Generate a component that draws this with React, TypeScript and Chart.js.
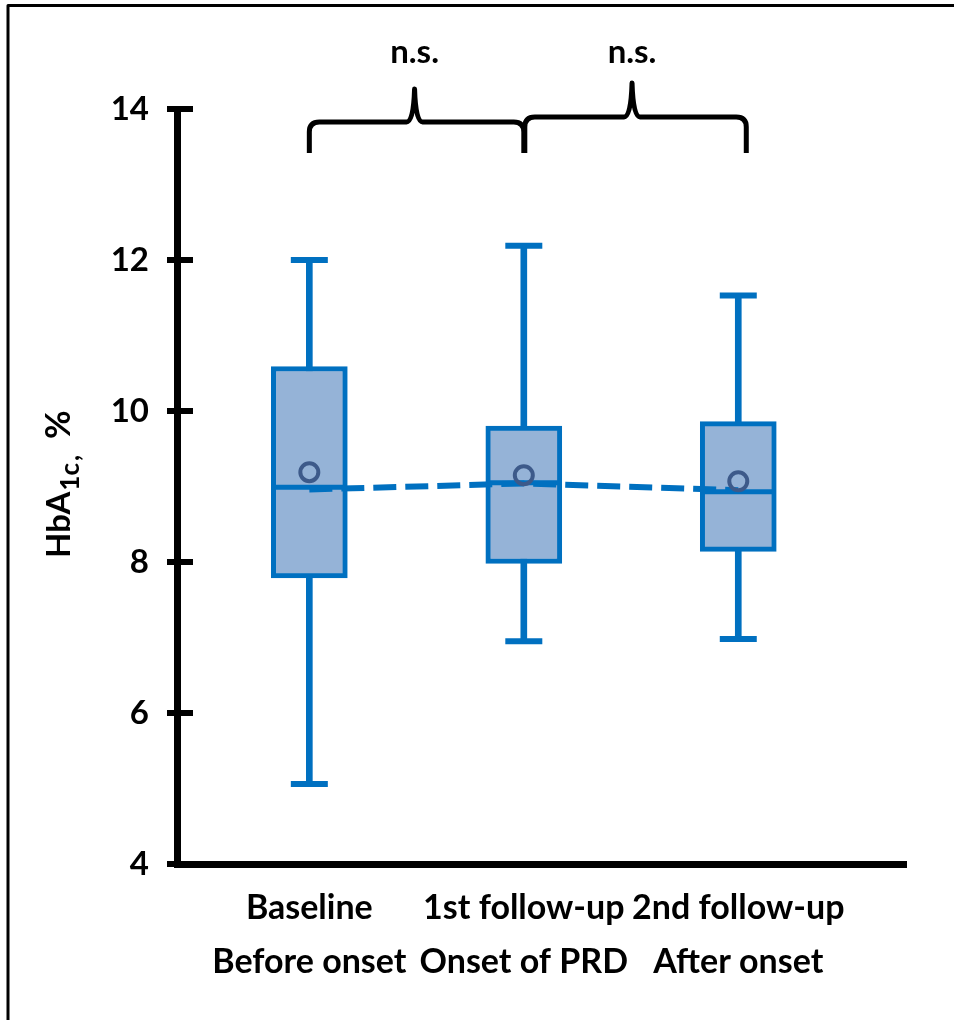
import React, { useEffect, useRef } from 'react';
import { Chart, registerables } from 'chart.js';

Chart.register(...registerables);

// ---- data ----
const categoriesTop = ['Baseline', '1st follow-up', '2nd follow-up'];
const categoriesBottom = ['Before onset', 'Onset of PRD', 'After onset'];
const positions = [1, 2, 3];
const whiskerMin = [5.06, 6.95, 6.98];
const q1 = [7.79, 7.98, 8.14];
const medians = [8.99, 9.05, 8.93];
const q3 = [10.59, 9.8, 9.86];
const whiskerMax = [12.0, 12.19, 11.53];
const means = [9.19, 9.15, 9.07];
const trendLine = [8.96, 9.04, 8.95];
const yTickValues = [4, 6, 8, 10, 12, 14];
const comparisons = [
  { from: 1, to: 2, label: 'n.s.' },
  { from: 2, to: 3, label: 'n.s.' },
];
const axisTitleMain = 'HbA';
const axisTitleSub = '1c';
const axisTitleComma = ',';
const axisTitleEnd = '%';

const FONT = 'Lato';
const BLUE = '#0070C0';
const BOX_FILL = '#95B3D7';
const MEAN_COLOR = '#3D5A8A';

const decorations = {
  id: 'decorations',
  afterDraw(chart: any) {
    const { ctx, chartArea } = chart;
    const xs = chart.scales.x;
    const ys = chart.scales.y;
    ctx.save();
    // y tick marks
    ctx.strokeStyle = '#000';
    ctx.lineWidth = 6;
    ys.ticks.forEach((t: any) => {
      const py = ys.getPixelForValue(t.value);
      ctx.beginPath();
      ctx.moveTo(chartArea.left - 10, py);
      ctx.lineTo(chartArea.left + 16, py);
      ctx.stroke();
    });

    // braces + labels
    ctx.lineWidth = 5;
    ctx.lineJoin = 'round';
    ctx.lineCap = 'butt';
    const top = chartArea.top;
    comparisons.forEach((c, i) => {
      const x1 = xs.getPixelForValue(c.from) + (i === 0 ? 0 : 1);
      const x2 = xs.getPixelForValue(c.to) + (i === 0 ? 0 : 8);
      const xc = xs.getPixelForValue((c.from + c.to) / 2) + (i === 0 ? -2 : 1);
      const yH = top + (i === 0 ? 13 : 8);
      const yTip = top + (i === 0 ? -20 : -26);
      const yEnd = top + 44;
      const r = 10;
      ctx.beginPath();
      ctx.moveTo(x1, yEnd);
      ctx.lineTo(x1, yH + r);
      ctx.quadraticCurveTo(x1, yH, x1 + r, yH);
      ctx.lineTo(xc - 8, yH);
      ctx.quadraticCurveTo(xc - 1, yH, xc, yTip);
      ctx.quadraticCurveTo(xc + 1, yH, xc + 8, yH);
      ctx.lineTo(x2 - r, yH);
      ctx.quadraticCurveTo(x2, yH, x2, yH + r);
      ctx.lineTo(x2, yEnd);
      ctx.stroke();
      ctx.fillStyle = '#000';
      ctx.font = `bold 33px ${FONT}`;
      ctx.textAlign = 'center';
      ctx.textBaseline = 'middle';
      ctx.fillText(c.label, xc, top - 57);
    });

    // y axis title with subscript
    ctx.save();
    ctx.translate(70, 558);
    ctx.rotate(-Math.PI / 2);
    ctx.textAlign = 'left';
    ctx.textBaseline = 'alphabetic';
    ctx.fillStyle = '#000';
    ctx.font = `bold 33px ${FONT}`;
    ctx.fillText(axisTitleMain, 0, 0);
    let w = ctx.measureText(axisTitleMain).width + 1;
    ctx.font = `bold 26px ${FONT}`;
    ctx.fillText(axisTitleSub, w, 9);
    w += ctx.measureText(axisTitleSub).width + 2;
    ctx.fillText(axisTitleComma, w, 9);
    w += ctx.measureText(axisTitleComma).width;
    ctx.font = `bold 35px ${FONT}`;
    ctx.fillText(axisTitleEnd, w + 16, 0);
    ctx.restore();

    // frame
    ctx.strokeStyle = '#000';
    ctx.lineWidth = 3;
    ctx.beginPath();
    ctx.moveTo(8, 1020);
    ctx.lineTo(8, 5.5);
    ctx.lineTo(954, 5.5);
    ctx.stroke();
    ctx.restore();
  },
};

export default function App() {
  const ref = useRef<HTMLCanvasElement | null>(null);
  useEffect(() => {
    if (!ref.current) return;
    const tickFont = { family: FONT, size: 33, weight: 'bold' as const };
    const chart = new Chart(ref.current, {
      type: 'bar',
      data: {
        datasets: [
          {
            type: 'bar',
            label: 'whiskers',
            data: positions.map((x, i) => ({ x, y: [whiskerMin[i], whiskerMax[i]] })) as any,
            backgroundColor: BLUE,
            borderWidth: 0,
            barThickness: 6,
            grouped: false,
            order: 5,
          },
          {
            type: 'line',
            label: 'caps',
            data: [
              ...positions.map((x, i) => ({ x, y: whiskerMax[i] })),
              ...positions.map((x, i) => ({ x, y: whiskerMin[i] })),
            ] as any,
            showLine: false,
            pointStyle: 'line',
            pointRadius: 18.5,
            pointBorderWidth: 6,
            pointBorderColor: BLUE,
            order: 4,
          },
          {
            type: 'bar',
            label: 'IQR',
            data: positions.map((x, i) => ({ x, y: [q1[i], q3[i]] })) as any,
            backgroundColor: BOX_FILL,
            borderColor: BLUE,
            borderWidth: 5,
            borderSkipped: false,
            barThickness: 76,
            grouped: false,
            order: 3,
          },
          {
            type: 'line',
            label: 'median',
            data: positions.map((x, i) => ({ x, y: medians[i] })) as any,
            showLine: false,
            pointStyle: 'line',
            pointRadius: 37,
            pointBorderWidth: 5,
            pointBorderColor: BLUE,
            order: 2,
          },
          {
            type: 'line',
            label: 'trend',
            data: positions.map((x, i) => ({ x, y: trendLine[i] })) as any,
            borderColor: BLUE,
            borderWidth: 6,
            borderDash: [23, 9],
            pointRadius: 0,
            tension: 0,
            order: 1,
          },
          {
            type: 'line',
            label: 'mean',
            data: positions.map((x, i) => ({ x, y: means[i] })) as any,
            showLine: false,
            pointStyle: 'circle',
            pointRadius: 9,
            pointBorderWidth: 4,
            pointBorderColor: MEAN_COLOR,
            pointBackgroundColor: 'rgba(0,0,0,0)',
            order: 0,
          },
        ],
      },
      options: {
        responsive: false,
        animation: false,
        events: [],
        layout: { padding: { top: 109, right: 48, left: 0, bottom: 0 } },
        plugins: { legend: { display: false }, tooltip: { enabled: false } },
        scales: {
          x: {
            type: 'linear',
            min: 0.383,
            max: 3.782,
            offset: false,
            grid: { display: false, drawTicks: false },
            border: { display: true, color: '#000', width: 7 },
            afterBuildTicks: (s: any) => {
              s.ticks = positions.map((v) => ({ value: v }));
            },
            afterFit: (s: any) => {
              s.height = 156;
            },
            ticks: {
              autoSkip: false,
              maxRotation: 0,
              color: '#000',
              padding: 17,
              font: { family: FONT, size: 34, weight: 'bold' as const, lineHeight: 54 / 34 },
              callback: (v: any) => {
                const i = positions.indexOf(Number(v));
                return i >= 0 ? [categoriesTop[i], categoriesBottom[i]] : '';
              },
            },
          },
          y: {
            type: 'linear',
            min: 4,
            max: 14,
            grid: { display: false, drawTicks: false },
            border: { display: true, color: '#000', width: 7 },
            afterBuildTicks: (s: any) => {
              s.ticks = yTickValues.map((v) => ({ value: v }));
            },
            afterFit: (s: any) => {
              s.width = 177;
            },
            ticks: { color: '#000', padding: 28, font: tickFont },
          },
        },
      },
      plugins: [decorations],
    });
    return () => chart.destroy();
  }, []);
  return (
    <div style={{ position: 'absolute', left: 0, top: 0, width: 954, height: 1020, background: '#fff' }}>
      <canvas ref={ref} width={954} height={1020} />
    </div>
  );
}
